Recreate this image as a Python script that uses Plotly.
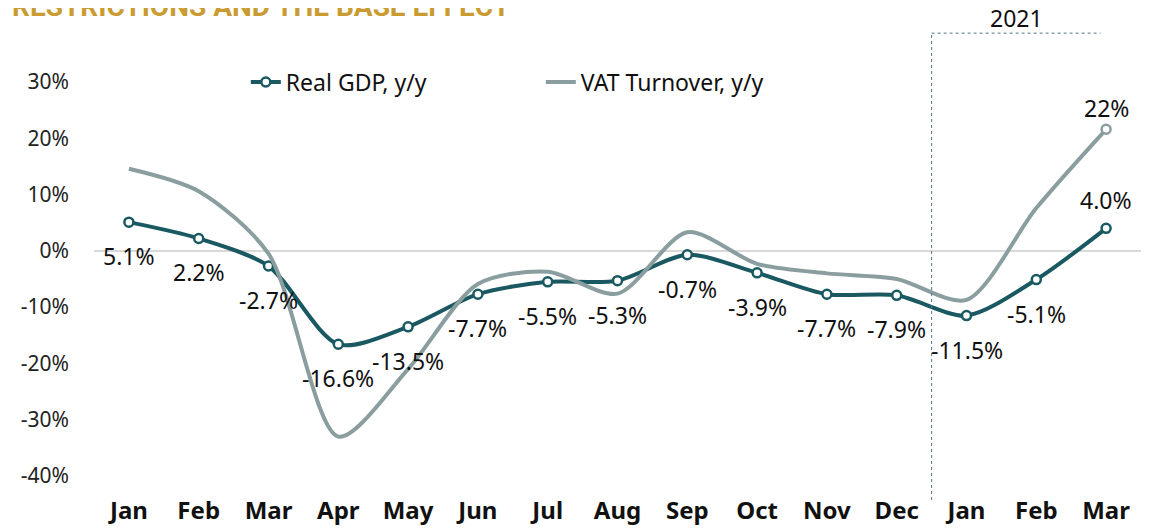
import plotly.graph_objects as go

tick_labels = ["Jan", "Feb", "Mar", "Apr", "May", "Jun", "Jul", "Aug", "Sep", "Oct", "Nov", "Dec", "Jan", "Feb", "Mar"]
gdp = [5.1, 2.2, -2.7, -16.6, -13.5, -7.7, -5.5, -5.3, -0.7, -3.9, -7.7, -7.9, -11.5, -5.1, 4.0]
gdp_labels = ["5.1%", "2.2%", "-2.7%", "-16.6%", "-13.5%", "-7.7%", "-5.5%", "-5.3%", "-0.7%", "-3.9%", "-7.7%", "-7.9%", "-11.5%", "-5.1%", "4.0%"]
vat = [14.6, 10.6, -0.5, -33.0, -21.0, -5.9, -3.7, -7.6, 3.3, -2.3, -4.0, -5.0, -8.7, 7.6, 21.6]
vat_last_label = "22%"
year_label = "2021"
title_text = "RESTRICTIONS AND THE BASE EFFECT"
y_ticks = [30, 20, 10, 0, -10, -20, -30, -40]

GDP_COL = "#1A5961"
VAT_COL = "#8A9E9F"
FONT = "Noto Sans"
LBL = 23

fig = go.Figure()
idx = list(range(len(tick_labels)))

fig.add_trace(go.Scatter(
    x=idx, y=gdp, name="Real GDP, y/y", mode="lines+markers",
    line=dict(color=GDP_COL, width=4, shape="spline", smoothing=0.8),
    marker=dict(symbol="circle", size=9, color="white", line=dict(color=GDP_COL, width=2.5)),
))
fig.add_trace(go.Scatter(
    x=idx, y=vat, name="VAT Turnover, y/y", mode="lines",
    line=dict(color=VAT_COL, width=4, shape="spline", smoothing=0.8),
))
fig.add_trace(go.Scatter(
    x=[idx[-1]], y=[vat[-1]], mode="markers", showlegend=False,
    marker=dict(symbol="circle", size=9, color="white", line=dict(color=VAT_COL, width=2.5)),
))

for i, (v, t) in enumerate(zip(gdp, gdp_labels)):
    above = i == len(gdp) - 1
    fig.add_annotation(x=i, y=v, text=t, showarrow=False, xanchor="center", yanchor="middle",
                       yshift=28 if above else -34,
                       font=dict(family=FONT, size=LBL, color="#111"))
fig.add_annotation(x=idx[-1], y=vat[-1], text=vat_last_label, showarrow=False,
                   xanchor="center", yanchor="middle",
                   yshift=21, font=dict(family=FONT, size=LBL, color="#111"))

# 2021 bracket
fig.add_shape(type="line", xref="x", yref="paper", x0=11.5, x1=11.5, y0=-0.061, y1=1.124,
              line=dict(color="#4F7A80", width=1, dash="dot"))
fig.add_shape(type="line", xref="x", yref="paper", x0=11.5, x1=13.92, y0=1.124, y1=1.124,
              line=dict(color="#4F7A80", width=1, dash="dot"))
fig.add_annotation(x=12.72, y=1.163, xref="x", yref="paper", text=year_label, showarrow=False,
                   xanchor="center", yanchor="middle",
                   font=dict(family=FONT, size=23, color="#111"))

# clipped title
fig.add_annotation(x=-0.0800, y=1.192, xref="paper", yref="paper", xanchor="left", yanchor="middle",
                   text="<b>" + title_text + "</b>", showarrow=False,
                   font=dict(family="Roboto", size=28, color="#C99B31"))

fig.update_layout(
    width=1162, height=522,
    margin=dict(l=86, r=29, t=74, b=54, autoexpand=False),
    paper_bgcolor="white", plot_bgcolor="white",
    font=dict(family=FONT, size=LBL, color="#111"),
    showlegend=True,
    legend=dict(orientation="h", x=0.145, y=1.0, xanchor="left", yanchor="middle",
                font=dict(family=FONT, size=LBL, color="#111"),
                entrywidth=250, entrywidthmode="pixels", bgcolor="rgba(0,0,0,0)"),
)
fig.update_xaxes(
    type="linear", range=[-0.5, 14.5], tickmode="array", tickvals=idx, ticktext=tick_labels,
    showgrid=False, zeroline=False, showline=False, ticks="", automargin=False,
    tickfont=dict(family=FONT, size=24, color="#111", weight="bold"), ticklabelstandoff=18,
)
fig.update_yaxes(
    range=[-40, 30], tickmode="array", tickvals=y_ticks, ticktext=[f"{v}%" for v in y_ticks],
    showgrid=False, zeroline=True, zerolinecolor="#D9D9D9", zerolinewidth=1.5, showline=False,
    ticks="", automargin=False, tickfont=dict(family=FONT, size=21, color="#222"), ticklabelstandoff=24,
)

fig.write_html("out.html")
